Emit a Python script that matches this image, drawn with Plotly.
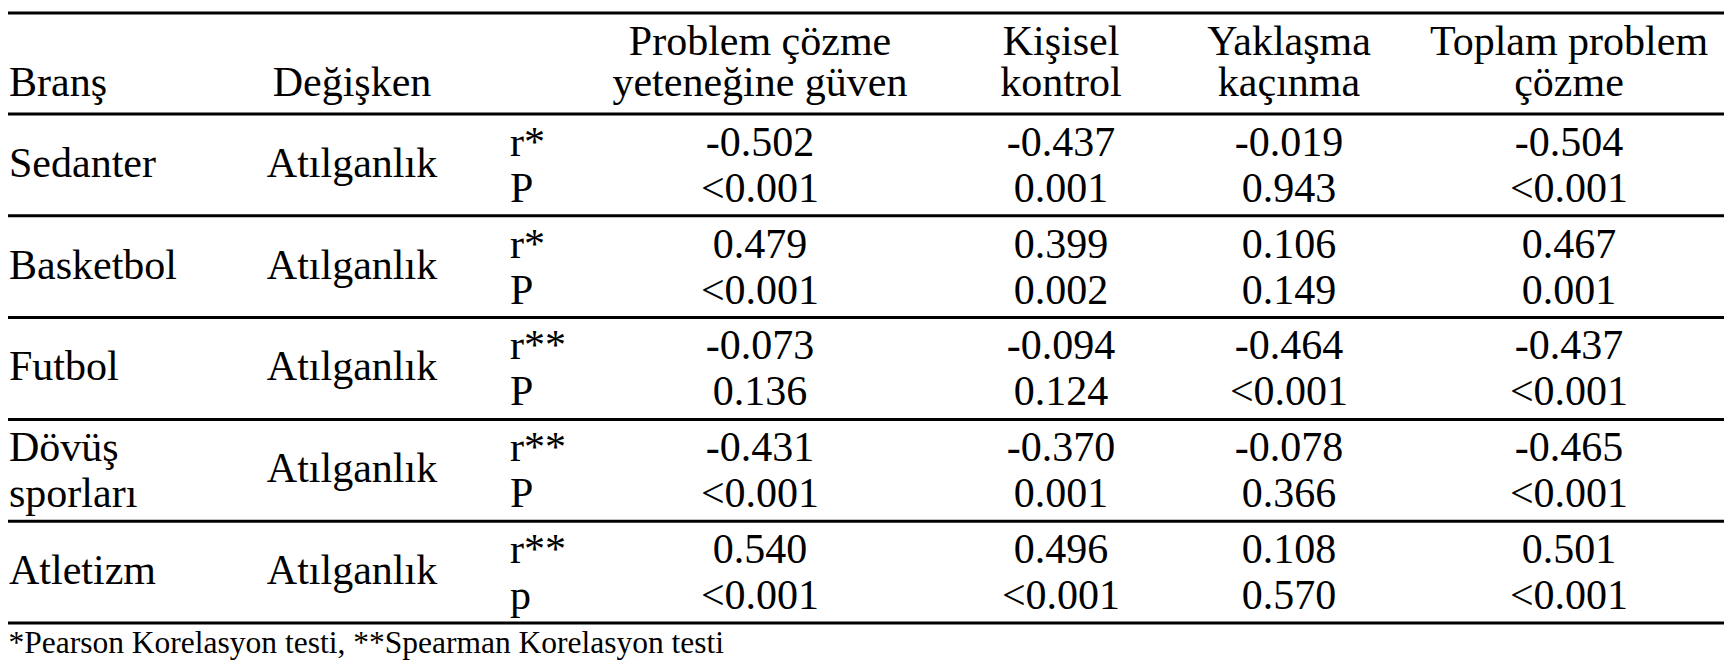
import plotly.graph_objects as go

# table content
branches = ["Sedanter", "Basketbol", "Futbol", "Dövüş sporları", "Atletizm"]
variables = ["Atılganlık", "Atılganlık", "Atılganlık", "Atılganlık", "Atılganlık"]
r_labels = ["r*", "r*", "r**", "r**", "r**"]
p_labels = ["P", "P", "P", "P", "p"]

header_line1 = ["Problem çözme", "Kişisel", "Yaklaşma", "Toplam problem"]
header_line2 = ["yeteneğine güven", "kontrol", "kaçınma", "çözme"]

r_problem = [-0.502, 0.479, -0.073, -0.431, 0.540]
r_kisisel = [-0.437, 0.399, -0.094, -0.370, 0.496]
r_yaklasma = [-0.019, 0.106, -0.464, -0.078, 0.108]
r_toplam = [-0.504, 0.467, -0.437, -0.465, 0.501]

p_problem = ["<0.001", "<0.001", "0.136", "<0.001", "<0.001"]
p_kisisel = ["0.001", "0.002", "0.124", "0.001", "<0.001"]
p_yaklasma = ["0.943", "0.149", "<0.001", "0.366", "0.570"]
p_toplam = ["<0.001", "0.001", "<0.001", "<0.001", "<0.001"]

footnote = "*Pearson Korelasyon testi, **Spearman Korelasyon testi"

# layout in page pixels (y grows downward); the html body has an 8px margin
W, H = 1732, 672
PAGE_MARGIN = 8
FONT = "Times New Roman"
SIZE = 42
NOTE_SIZE = 31.5
TOP_LINE = 13
HEAD_LINE = 114
GROUP_H = 101.8
BRANCH_X = 9
VAR_X = 352
STAT_X = 510
VALUE_X = [760, 1061, 1289, 1569]
NOTE_X = 8.5


def centre(baseline, size=SIZE):
    return baseline - 0.35 * size


n = len(branches)
group_top = [HEAD_LINE + i * GROUP_H for i in range(n)]
r_base = [t + 46 for t in group_top]
p_base = [t + 92 for t in group_top]
mid_base = [t + 67 for t in group_top]

fig = go.Figure()


def add_text(xs, ys, texts, pos="middle center", size=SIZE):
    fig.add_trace(
        go.Scatter(
            x=xs,
            y=ys,
            text=texts,
            mode="text",
            textposition=pos,
            textfont=dict(family=FONT, size=size, color="black"),
            cliponaxis=False,
            hoverinfo="skip",
            showlegend=False,
        )
    )


# header
add_text([BRANCH_X], [centre(100)], ["Branş"], pos="middle right")
add_text([VAR_X], [centre(100)], ["Değişken"])
add_text(VALUE_X, [centre(59)] * 4, header_line1)
add_text(VALUE_X, [centre(100)] * 4, header_line2)

# branch names (two-word names split over the r / p rows)
bx, by, bt = [], [], []
for i, name in enumerate(branches):
    parts = name.split(" ")
    if len(parts) == 1:
        bx.append(BRANCH_X)
        by.append(centre(mid_base[i]))
        bt.append(name)
    else:
        bx += [BRANCH_X, BRANCH_X]
        by += [centre(r_base[i]), centre(p_base[i])]
        bt += parts
add_text(bx, by, bt, pos="middle right")

add_text([VAR_X] * n, [centre(b) for b in mid_base], variables)
add_text([STAT_X] * n, [centre(b) for b in r_base], r_labels, pos="middle right")
add_text([STAT_X] * n, [centre(b) for b in p_base], p_labels, pos="middle right")

r_cols = [r_problem, r_kisisel, r_yaklasma, r_toplam]
p_cols = [p_problem, p_kisisel, p_yaklasma, p_toplam]
for x, rv, pv in zip(VALUE_X, r_cols, p_cols):
    add_text([x] * n, [centre(b) for b in r_base], [f"{v:.3f}" for v in rv])
    add_text([x] * n, [centre(b) for b in p_base], pv)

add_text([NOTE_X], [centre(656, NOTE_SIZE)], [footnote], pos="middle right", size=NOTE_SIZE)

# horizontal rules
rules = [TOP_LINE, HEAD_LINE] + [t + GROUP_H for t in group_top]
for y in rules:
    fig.add_shape(
        type="line", xref="paper", x0=0, x1=1, yref="y", y0=y, y1=y,
        line=dict(color="black", width=3),
    )

fig.update_xaxes(range=[PAGE_MARGIN, W - PAGE_MARGIN], visible=False, fixedrange=True)
fig.update_yaxes(range=[H - PAGE_MARGIN, PAGE_MARGIN], visible=False, fixedrange=True)
fig.update_layout(
    width=W - 2 * PAGE_MARGIN,
    height=H - 2 * PAGE_MARGIN,
    margin=dict(l=0, r=0, t=0, b=0),
    paper_bgcolor="white",
    plot_bgcolor="white",
    showlegend=False,
)

fig.write_html("out.html")
